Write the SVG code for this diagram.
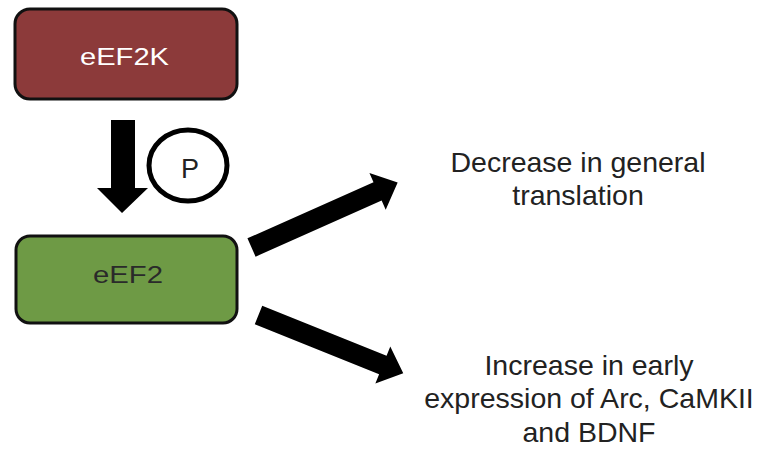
<svg xmlns="http://www.w3.org/2000/svg" width="771" height="453" viewBox="0 0 771 453">
<style>
.box{stroke:#111;stroke-width:3}
.lbl{font-family:"Liberation Sans",Arial,sans-serif;fill:#222;text-anchor:middle;font-size:28.5px}
.arrow{fill:#000}
</style>
<rect width="771" height="453" fill="#fff"/>
<g id="eEF2K">
<rect class="box" x="15" y="9" width="222" height="90" rx="15" fill="#8c3a3a"/>
<text x="80" y="65" font-family="Liberation Sans, Arial, sans-serif" font-size="24" fill="#fff" textLength="89" lengthAdjust="spacingAndGlyphs">eEF2K</text>
</g>
<g id="eEF2">
<rect class="box" x="16" y="236" width="221" height="87" rx="14" fill="#6e9a45"/>
<text x="93" y="283" font-family="Liberation Sans, Arial, sans-serif" font-size="23" fill="#2a2a2a" textLength="70" lengthAdjust="spacingAndGlyphs">eEF2</text>
</g>
<g id="P">
<ellipse cx="188" cy="165.5" rx="39" ry="35.5" fill="#fff" stroke="#000" stroke-width="5"/>
<text x="190" y="178" font-family="Liberation Sans, Arial, sans-serif" font-size="27" fill="#222" text-anchor="middle">P</text>
</g>
<g id="out1">
<text class="lbl" x="578" y="172" font-size="29">Decrease in general</text>
<text class="lbl" x="578" y="205" font-size="29">translation</text>
</g>
<g id="out2">
<text class="lbl" x="589" y="375">Increase in early</text>
<text class="lbl" x="589" y="408">expression of Arc, CaMKII</text>
<text class="lbl" x="589" y="442">and BDNF</text>
</g>
<g id="connectors">
<polygon class="arrow" points="111,120 135,120 135,188 148,188 122,213 97,188 111,188"/>
<polygon class="arrow" transform="translate(251.5,247.5) rotate(-24)" points="0,-10 138,-10 138,-20 160,0 138,20 138,10 0,10"/>
<polygon class="arrow" transform="translate(258.5,315) rotate(21.9)" points="0,-10 134,-10 134,-20 156,0 134,20 134,10 0,10"/>
</g>
</svg>
